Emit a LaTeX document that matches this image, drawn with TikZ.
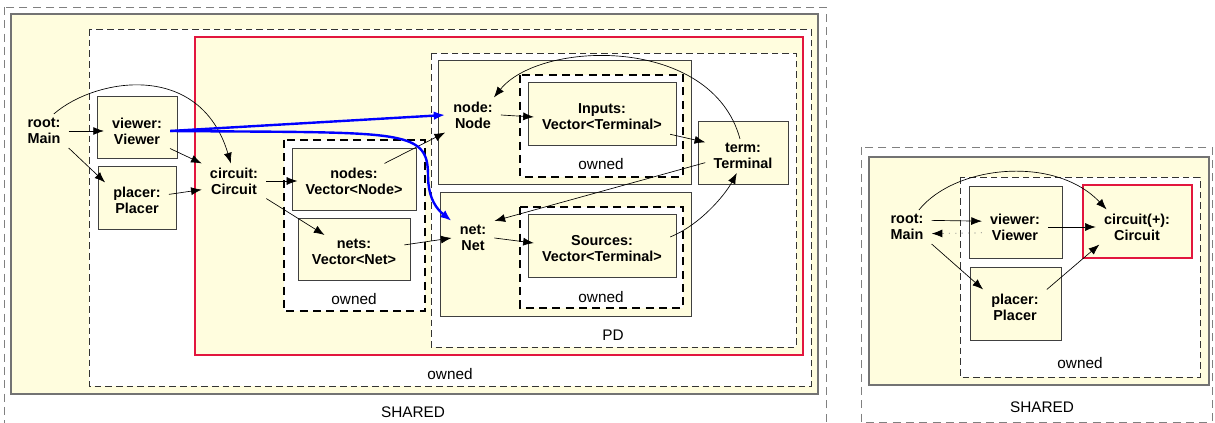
\documentclass[tikz,border=0pt]{standalone}
\usepackage{fontspec}
\setmainfont{Liberation Sans}
\usetikzlibrary{arrows.meta}
\definecolor{boxyellow}{RGB}{255,253,222}
\definecolor{ownred}{RGB}{226,22,62}

\begin{document}
\begin{tikzpicture}[x=0.75pt, y=-0.75pt,
    lbl/.style={font=\fontsize{10.8}{12}\selectfont\bfseries, align=center, inner xsep=6pt, inner ysep=3pt},
    note/.style={font=\fontsize{11.5}{13}\selectfont},
    objbox/.style={draw=black!75, fill=boxyellow, line width=0.6pt},
    sharedbox/.style={draw=gray, line width=0.6pt, dash pattern=on 6pt off 4pt},
    heapbox/.style={draw=black!55, fill=boxyellow, line width=1pt},
    ownedbox/.style={draw=black!80, fill=white, line width=0.6pt, dash pattern=on 5pt off 3pt},
    thickowned/.style={draw=black, fill=white, line width=1.8pt, dash pattern=on 6pt off 4pt},
    redbox/.style={draw=ownred, fill=boxyellow, line width=1.6pt},
    arr/.style={-{Latex[length=8pt,width=6pt]}, line width=0.5pt},
    ptr/.style={-{Latex[length=8.5pt,width=6.5pt]}, draw=blue, line width=1.8pt}]
                \useasboundingbox (0,0) rectangle (1215,423);

                % left picture
                \draw[sharedbox] (4,7) rectangle (826,430);
                \draw[heapbox] (11,14) rectangle (818,394);
                \draw[ownedbox] (89,29) rectangle (811,386);
                \draw[redbox] (195,37) rectangle (803,355);
                \draw[ownedbox] (431,53) rectangle (796,347);

                \draw[objbox] (97,96) rectangle (177,158);
                \draw[objbox] (98,166) rectangle (176,229);

                \draw[thickowned] (284,140) rectangle (425,311);
                \draw[objbox] (292,148) rectangle (416,210);
                \draw[objbox] (298,218) rectangle (410,280);

                \draw[objbox] (438,60) rectangle (691,184);
                \draw[objbox] (440,192) rectangle (691,316);
                \draw[thickowned] (520,75) rectangle (683,177);
                \draw[objbox] (528,82) rectangle (676,145);
                \draw[thickowned] (520,207) rectangle (683,308);
                \draw[objbox] (528,214) rectangle (676,277);
                \draw[objbox] (698,121) rectangle (788,184);

                \node[note] (sharedA) at (413,412) {SHARED};
                \node[note] (ownedA) at (450,374) {owned};
                \node[note] (pd) at (613,335) {PD};
                \node[note] (ownedB) at (354,299) {owned};
                \node[note] (ownedC) at (601,164) {owned};
                \node[note] (ownedD) at (601,297) {owned};

                \node[lbl] (root) at (44,131) {root:\\Main};
                \node[lbl] (viewer) at (137,131) {viewer:\\Viewer};
                \node[lbl] (placer) at (137,200) {placer:\\Placer};
                \node[lbl] (circuit) at (234,181) {circuit:\\Circuit};
                \node[lbl] (nodes) at (354,181) {nodes:\\Vector<Node>};
                \node[lbl] (nets) at (354,252) {nets:\\Vector<Net>};
                \node[lbl] (node) at (473,115) {node:\\Node};
                \node[lbl] (net) at (473,238) {net:\\Net};
                \node[lbl] (inputs) at (602,117) {Inputs:\\Vector<Terminal>};
                \node[lbl] (sources) at (602,249) {Sources:\\Vector<Terminal>};
                \node[lbl] (term) at (743,156) {term:\\Terminal};

                \draw[arr] (root.east) -- (viewer.west);
                \draw[arr] (root.south east) -- (placer.north west);
                \draw[arr] (root.60) .. controls (95,78) and (200,60) .. (circuit.100);
                \draw[arr] (viewer.south east) -- (circuit.north west);
                \draw[arr] (placer.10) -- (circuit.195);
                \draw[arr] (circuit.east) -- (nodes.west);
                \draw[arr] (circuit.south east) -- (nets.150);
                \draw[arr] (nodes.30) -- (node.south west);
                \draw[arr] (nets.8) -- (net.west);
                \draw[arr] (node.east) -- (inputs.west);
                \draw[arr] (net.east) -- (sources.175);
                \draw[arr] (inputs.south east) -- (term.160);
                \draw[arr] (term.100) .. controls (712,35) and (540,40) .. (node.40);
                \draw[arr] (term.190) -- (net.north east);
                \draw[arr] (sources.10) .. controls (700,225) and (725,195) .. (term.-110);

                \draw[ptr] (viewer.east) -- (node.west);
                \draw[ptr] (viewer.east) .. controls (400,133) and (428,128) .. (428,175)
                    .. controls (428,200) and (438,210) .. (net.north west);

                % right picture
                \draw[sharedbox] (861,147) rectangle (1212,422);
                \draw[heapbox] (869,157) rectangle (1209,385);
                \draw[ownedbox] (960,177) rectangle (1200,377);
                \draw[objbox] (969,186) rectangle (1062,258);
                \draw[objbox] (970,267) rectangle (1061,340);
                \draw[redbox] (1083,185) rectangle (1192,258);

                \node[note] (sharedB) at (1042,407) {SHARED};
                \node[note] (ownedE) at (1080,363) {owned};

                \node[lbl] (rootR) at (907,227) {root:\\Main};
                \node[lbl] (viewerR) at (1015,227) {viewer:\\Viewer};
                \node[lbl] (placerR) at (1015,307) {placer:\\Placer};
                \node[lbl] (circuitR) at (1137,227) {circuit(+):\\Circuit};

                \draw[arr] (rootR.15) -- (viewerR.170);
                \draw[gray, line width=0.6pt, dash pattern=on 0.8pt off 4pt,
                    -{Latex[length=8pt,width=6pt,color=black]}] (viewerR.190) -- (rootR.-15);
                \draw[arr] (rootR.south east) -- (placerR.north west);
                \draw[arr] (rootR.55) .. controls (955,165) and (1055,155) .. (circuitR.150);
                \draw[arr] (viewerR.east) -- (circuitR.west);
                \draw[arr] (placerR.north east) -- (circuitR.-155);
            \end{tikzpicture}
\end{document}
